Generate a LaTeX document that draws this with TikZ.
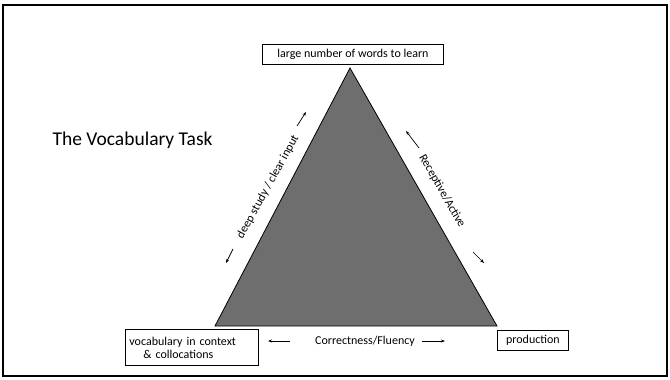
\documentclass[tikz,border=0pt]{standalone}
\usepackage{fontspec}
\setmainfont{Carlito}
\usetikzlibrary{arrows.meta}
\tikzset{
      cornerbox/.style={
        draw=black,
        line width=0.8pt,
        fill=white,
        align=left,
        inner sep=3pt,
        font=\fontsize{12}{13}\selectfont
      },
      sidelabel/.style={
        font=\fontsize{12}{13}\selectfont,
        inner sep=1pt
      },
      sidearrow/.style={
        -{Stealth[length=4pt,width=3pt]},
        line width=0.7pt
      }
    }

\begin{document}
\begin{tikzpicture}[x=1pt,y=-1pt]
    \useasboundingbox (0,0) rectangle (670,380);
    \draw[line width=1.6pt] (3,5) rectangle (667,376);
    \filldraw[fill=black!57, draw=black, line width=0.8pt] (350,68) -- (497,326) -- (215,326) -- cycle;
    \node[anchor=west, font=\fontsize{19.5}{22}\selectfont] (title) at (49,140) {The Vocabulary Task};
    \node[cornerbox, minimum width=181pt, minimum height=20pt, anchor=north west] (top) at (262,44) {large number of words to learn};
    \node[cornerbox, text width=125pt, minimum height=36pt, anchor=north west, inner xsep=4pt, inner ysep=2pt] (left) at (125,329) {vocabulary in context\\\hspace*{14pt}\& collocations};
    \node[cornerbox, minimum width=71pt, minimum height=20pt, anchor=north west] (right) at (497,330) {production};
    \node[sidelabel] (base) at (365,341) {Correctness/Fluency};
    \node[sidelabel, rotate=61] (lside) at (268,187) {deep study / clear input};
    \node[sidelabel, rotate=-60.3] (rside) at (442,191) {Receptive/Active};
    \coordinate (bl0) at (290,341);
    \coordinate (bl1) at (268,341);
    \coordinate (br0) at (422,341);
    \coordinate (br1) at (445,341);
    \coordinate (ll0) at (233,249);
    \coordinate (ll1) at (226,263);
    \coordinate (lu0) at (297,126);
    \coordinate (lu1) at (306,112);
    \coordinate (ru0) at (419,148);
    \coordinate (ru1) at (406,131);
    \coordinate (rl0) at (473,252);
    \coordinate (rl1) at (484,263);
    \draw[sidearrow] (bl0) -- (bl1);
    \draw[sidearrow] (br0) -- (br1);
    \draw[sidearrow] (ll0) -- (ll1);
    \draw[sidearrow] (lu0) -- (lu1);
    \draw[sidearrow] (ru0) -- (ru1);
    \draw[sidearrow] (rl0) -- (rl1);
    \end{tikzpicture}
\end{document}
